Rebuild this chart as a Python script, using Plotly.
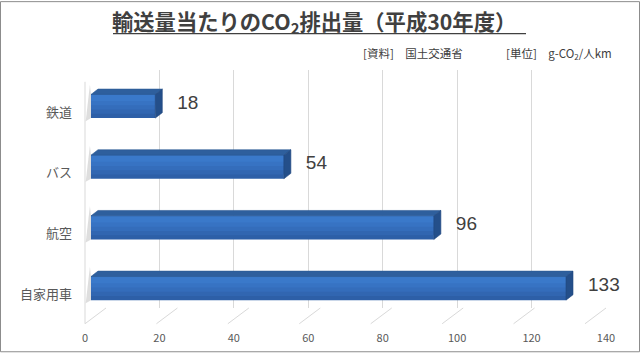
import plotly.graph_objects as go

# ---- data ----
categories = ["鉄道", "バス", "航空", "自家用車"]
values = [18, 54, 96, 133]
tick_vals = [0, 20, 40, 60, 80, 100, 120, 140]
title_text = "輸送量当たりのCO<sub>2</sub>排出量（平成30年度）"
source_text = "[資料]　国土交通省"
unit_text = "[単位]　g-CO<sub>2</sub>/人km"

# ---- geometry (pixels) ----
FW, FH = 640, 357
L, R, T, B = 85, 606, 70, 312
W, H = R - L, B - T
PX_PER_UNIT = 500 / 140       # front tick scale
BAR_ZERO_PX = 91              # bar origin (mid depth)
BACK_SHIFT = 21               # back wall offset in px
FLOOR_DROP = 16               # floor depth in px
ROW_PX = 61.7

def pxx(px):
    return (px - L) / W

def pxy(py):
    return (B - py) / H

n = len(categories)
pos = [n - 1 - i for i in range(n)]          # top to bottom
bar_w = 24 / ROW_PX
dx = 7 / PX_PER_UNIT
dy = 5.5 / ROW_PX

x_min = -(BAR_ZERO_PX - L) / PX_PER_UNIT
x_max = (R - BAR_ZERO_PX) / PX_PER_UNIT
y_min = -(B - 292) / ROW_PX
y_max = (292 - T) / ROW_PX

fig = go.Figure()

# shadows on the left wall
for k in pos:
    fig.add_trace(go.Scatter(
        x=[x_min + 0.2, 0, 0, x_min + 0.2 + dx * 0.6],
        y=[k - bar_w / 2 - 0.05, k - bar_w / 2, k + bar_w / 2, k + bar_w / 2 + dy * 1.8],
        fill="toself", fillcolor="rgba(90,90,90,0.20)", line=dict(width=0),
        mode="lines", hoverinfo="skip", showlegend=False, xaxis="x", yaxis="y"))

# front face: gradient approximated by overlaid bands aligned to the top edge
bands = [(1.00, "#2d5fa7"), (0.82, "#3166b1"), (0.64, "#346dbb"),
         (0.46, "#3773c3"), (0.28, "#3a79ca")]
for frac, col in bands:
    wb = bar_w * frac
    fig.add_trace(go.Bar(
        x=values, y=[k + bar_w / 2 - wb / 2 for k in pos], orientation="h", width=wb,
        marker=dict(color=col, line=dict(width=0)),
        hoverinfo="skip", showlegend=False, xaxis="x", yaxis="y"))

# top faces and side faces
for v, k in zip(values, pos):
    top = k + bar_w / 2
    bot = k - bar_w / 2
    fig.add_trace(go.Scatter(
        x=[0, v, v + dx, dx, 0], y=[top, top, top + dy, top + dy, top],
        fill="toself", fillcolor="#2e5f9d", line=dict(color="#2b5a95", width=0.6),
        mode="lines", hoverinfo="skip", showlegend=False, xaxis="x", yaxis="y"))
    fig.add_trace(go.Scatter(
        x=[v, v + dx, v + dx, v, v],
        y=[bot, bot + dy, top + dy, top, bot],
        fill="toself", fillcolor="#244f8a", line=dict(color="#20477d", width=0.6),
        mode="lines", hoverinfo="skip", showlegend=False, xaxis="x", yaxis="y"))

# value labels
fig.add_trace(go.Scatter(
    x=[v + dx + 15 / PX_PER_UNIT for v in values], y=[k + 0.04 for k in pos],
    mode="text", text=[str(v) for v in values], textposition="middle right",
    textfont=dict(family="Liberation Sans, Arial", size=19, color="#404040"),
    hoverinfo="skip", showlegend=False, cliponaxis=False, xaxis="x", yaxis="y"))

# invisible traces to activate helper axes
fig.add_trace(go.Scatter(x=[0], y=[0], mode="markers", marker=dict(opacity=0),
                         hoverinfo="skip", showlegend=False, xaxis="x2", yaxis="y"))
fig.add_trace(go.Scatter(x=[0], y=[0], mode="markers", marker=dict(opacity=0),
                         hoverinfo="skip", showlegend=False, xaxis="x3", yaxis="y"))

shapes = []
# floor diagonals
for v in tick_vals:
    fx = L + v * PX_PER_UNIT
    bx = fx + BACK_SHIFT
    shapes.append(dict(type="line", xref="paper", yref="paper",
                       x0=pxx(fx), y0=pxy(B + FLOOR_DROP), x1=pxx(bx), y1=pxy(B),
                       line=dict(color="#d9d9d9", width=1), layer="below"))
# left wall front edge
shapes.append(dict(type="line", xref="paper", yref="paper",
                   x0=pxx(L), y0=pxy(B + FLOOR_DROP), x1=pxx(L), y1=pxy(82),
                   line=dict(color="#d9d9d9", width=1), layer="below"))
# title underline
shapes.append(dict(type="line", xref="paper", yref="paper",
                   x0=pxx(113), y0=pxy(33), x1=pxx(526), y1=pxy(33),
                   line=dict(color="#404040", width=1.2)))
# chart border
shapes.append(dict(type="rect", xref="paper", yref="paper",
                   x0=pxx(0.5), y0=pxy(FH - 0.5), x1=pxx(FW - 0.5), y1=pxy(0.5),
                   line=dict(color="#8c8c8c", width=1)))

annotations = [
    dict(text="<b>" + title_text + "</b>", x=pxx(314), y=pxy(21), xref="paper", yref="paper",
         showarrow=False, xanchor="center", yanchor="middle",
         font=dict(family="Noto Sans CJK JP", size=21.3, color="#404040")),
    dict(text=source_text, x=pxx(361), y=pxy(53), xref="paper", yref="paper",
         showarrow=False, xanchor="left", yanchor="middle",
         font=dict(family="Noto Sans CJK JP", size=11.5, color="#404040")),
    dict(text=unit_text, x=pxx(504), y=pxy(53), xref="paper", yref="paper",
         showarrow=False, xanchor="left", yanchor="middle",
         font=dict(family="Noto Sans CJK JP", size=11.5, color="#404040")),
]

fig.update_layout(
    width=FW, height=FH,
    margin=dict(l=L, r=FW - R, t=T, b=FH - B),
    paper_bgcolor="white", plot_bgcolor="rgba(0,0,0,0)",
    barmode="overlay",
    xaxis=dict(range=[x_min, x_max], domain=[0, 1], showgrid=False, zeroline=False,
               showticklabels=False, showline=False, fixedrange=True),
    xaxis2=dict(range=[0, 140], domain=[0, 500 / W], overlaying="x", anchor="y",
                side="bottom", tickvals=tick_vals, showgrid=False, zeroline=False,
                showline=False, ticks="", ticklabelstandoff=22,
                tickfont=dict(family="Noto Sans CJK JP", size=11, color="#595959")),
    xaxis3=dict(range=[0, 140], domain=[BACK_SHIFT / W, 1], overlaying="x", anchor="y",
                tickvals=tick_vals, showgrid=True, gridcolor="#d9d9d9", gridwidth=1,
                zeroline=False, showticklabels=False, showline=False, ticks=""),
    yaxis=dict(range=[y_min, y_max], tickvals=[k - 6 / ROW_PX for k in pos],
               ticktext=categories, showgrid=False, zeroline=False, showline=False,
               ticks="", ticklabelstandoff=12,
               tickfont=dict(family="Noto Sans CJK JP", size=13, color="#595959")),
    shapes=shapes,
    annotations=annotations,
)

fig.write_html("out.html", config={"displayModeBar": False},
               post_script="document.body.style.margin='0';")
